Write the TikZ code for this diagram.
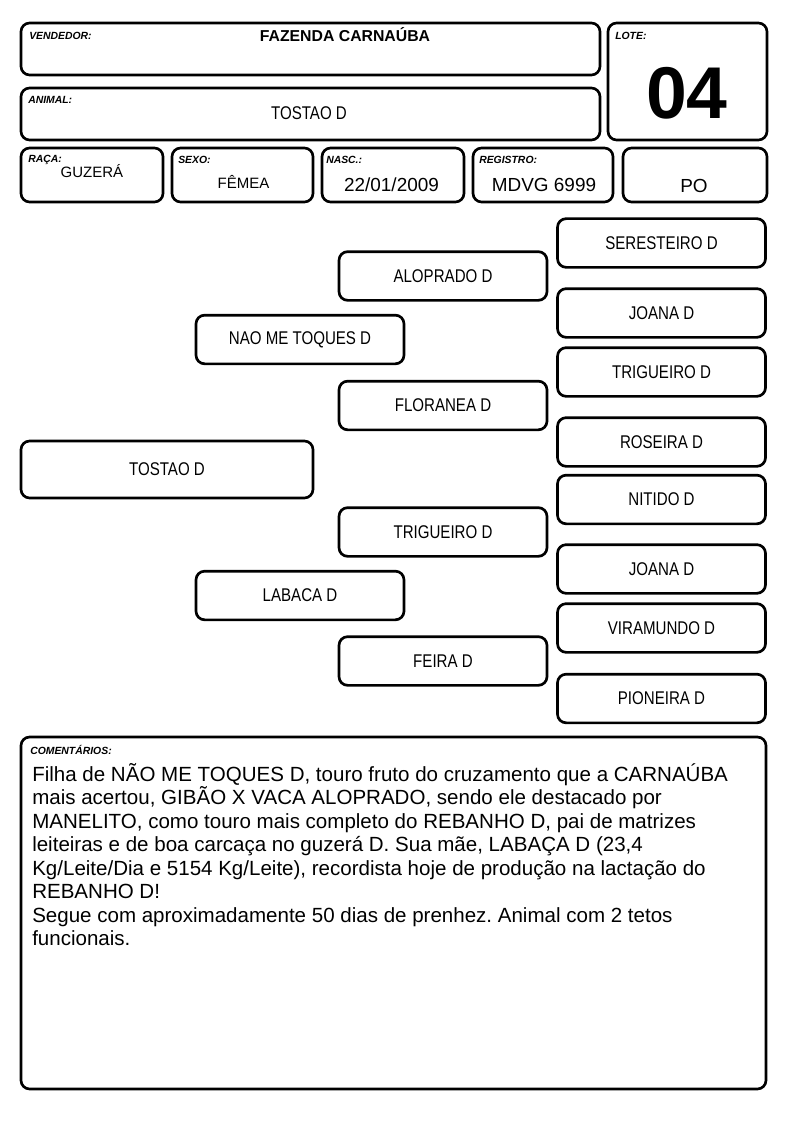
\documentclass[tikz,border=0pt]{standalone}
\usepackage{fontspec}
\setmainfont{Liberation Sans}
\newfontfamily\narrowsans[FakeStretch=0.82]{Liberation Sans}
\frenchspacing

\begin{document}
\begin{tikzpicture}[x=0.75pt,y=-0.75pt,
    box/.style={draw,line width=2pt,rounded corners=6.5pt},
    pbox/.style={box,inner sep=0pt,minimum width=156pt,minimum height=36.5pt,
      font=\narrowsans\fontsize{13.8}{15}\selectfont},
    tbox/.style={pbox,minimum width=219pt,minimum height=42.75pt},
    lbl/.style={anchor=north west,inner sep=0pt,
      font=\bfseries\itshape\fontsize{7.8}{9}\selectfont},
    val/.style={anchor=base,inner sep=0pt,font=\fontsize{14.2}{16}\selectfont},
    small/.style={val,font=\fontsize{11.25}{13}\selectfont}]
  \fill[white] (0,0) rectangle (794,1123);
  \useasboundingbox (0,0) rectangle (794,1123);

  % header
  \draw[box] (21,23) rectangle (600,75);
  \draw[box] (21,88) rectangle (600,140);
  \draw[box] (608,23) rectangle (767,140);
  \draw[box] (21,148) rectangle (163,202);
  \draw[box] (172,148) rectangle (313,202);
  \draw[box] (322,148) rectangle (464,202);
  \draw[box] (473,148) rectangle (613,202);
  \draw[box] (623,148) rectangle (767,202);

  \node[lbl] (vendedor) at (29,32) {VENDEDOR:};
  \node[lbl] (animal) at (28,96) {ANIMAL:};
  \node[lbl] (lote) at (615,32) {LOTE:};
  \node[lbl] (raca) at (28,155) {RAÇA:};
  \node[lbl] (sexo) at (178,156) {SEXO:};
  \node[lbl] (nasc) at (326,156) {NASC.:};
  \node[lbl] (registro) at (479,156) {REGISTRO:};

  \node[val,font=\bfseries\fontsize{11.85}{14}\selectfont] (fazenda) at (345,42) {FAZENDA CARNAÚBA};
  \node[val,font=\narrowsans\fontsize{13.8}{15}\selectfont] (nome) at (309,120) {TOSTAO D};
  \node[val,font=\bfseries\fontsize{55}{60}\selectfont] (numlote) at (687,119) {04};
  \node[small] (raca val) at (92,178) {GUZERÁ};
  \node[small] (sexo val) at (243.5,189) {FÊMEA};
  \node[val] (nasc val) at (391.5,192) {22/01/2009};
  \node[val] (reg val) at (544,192) {MDVG 6999};
  \node[val] (po) at (694,193) {PO};

  % pedigree
  \node[tbox] (tostao) at (167,469.5) {TOSTAO D};
  \node[pbox] (pai) at (300,339.5) {NAO ME TOQUES D};
  \node[pbox] (mae) at (300,595.5) {LABACA D};
  \node[pbox] (avo1) at (443,276) {ALOPRADO D};
  \node[pbox] (avo2) at (443,405.5) {FLORANEA D};
  \node[pbox] (avo3) at (443,532) {TRIGUEIRO D};
  \node[pbox] (avo4) at (443,661) {FEIRA D};
  \node[pbox] (bis1) at (661.5,243) {SERESTEIRO D};
  \node[pbox] (bis2) at (661.5,313) {JOANA D};
  \node[pbox] (bis3) at (661.5,372) {TRIGUEIRO D};
  \node[pbox] (bis4) at (661.5,442) {ROSEIRA D};
  \node[pbox] (bis5) at (661.5,499.5) {NITIDO D};
  \node[pbox] (bis6) at (661.5,569) {JOANA D};
  \node[pbox] (bis7) at (661.5,628) {VIRAMUNDO D};
  \node[pbox] (bis8) at (661.5,698.5) {PIONEIRA D};

  % comentarios
  \draw[box] (21,737) rectangle (766,1089);
  \node[lbl] (comentarios) at (30,745) {COMENTÁRIOS:};
  \foreach \linha [count=\i] in {
      {Filha de NÃO ME TOQUES D, touro fruto do cruzamento que a CARNAÚBA},
      {mais acertou, GIBÃO X VACA ALOPRADO, sendo ele destacado por},
      {MANELITO, como touro mais completo do REBANHO D, pai de matrizes},
      {leiteiras e de boa carcaça no guzerá D. Sua mãe, LABAÇA D (23,4},
      {Kg/Leite/Dia e 5154 Kg/Leite), recordista hoje de produção na lactação do},
      {REBANHO D!},
      {Segue com aproximadamente 50 dias de prenhez. Animal com 2 tetos},
      {funcionais.}}
    \node[anchor=base west,inner sep=0pt,font=\fontsize{15.4}{17}\selectfont]
      (linha\i) at (32,781+23.5*\i-23.5) {\linha};
\end{tikzpicture}
\end{document}
